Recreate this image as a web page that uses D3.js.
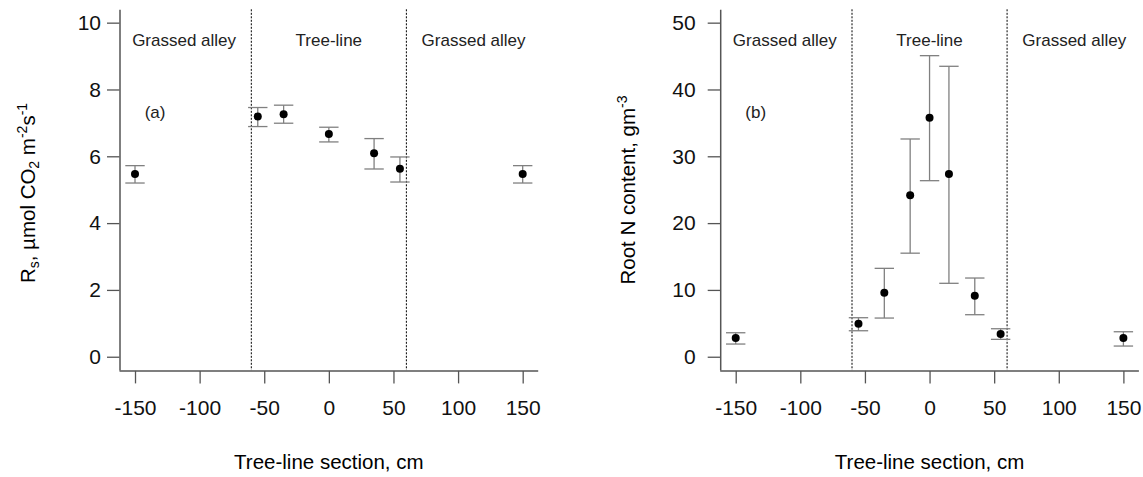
<!DOCTYPE html>
<html>
<head>
<meta charset="utf-8">
<script src="https://cdn.jsdelivr.net/npm/d3@7"></script>
<style>
  body { margin: 0; background: #fff; }
  svg { display: block; font-family: "Liberation Sans", Arial, sans-serif; }
</style>
</head>
<body>
<div id="chart"></div>
<script>
// data
const xTicks = [-150, -100, -50, 0, 50, 100, 150];
const boundaries = [-60, 60];
const zoneNames = ["Grassed alley", "Tree-line", "Grassed alley"];
const zoneCentres = [-112, 0, 112];

// (a) soil respiration
const rsX = [-150, -55, -35, 0, 35, 55, 150];
const rsMean = [5.47, 7.19, 7.26, 6.67, 6.09, 5.63, 5.47];
const rsLow = [5.20, 6.89, 6.99, 6.43, 5.62, 5.23, 5.20];
const rsHigh = [5.72, 7.46, 7.53, 6.87, 6.53, 5.98, 5.72];
const rsTicks = [0, 2, 4, 6, 8, 10];

// (b) root N content
const rootX = [-150, -55, -35, -15, 0, 15, 35, 55, 150];
const rootMean = [2.80, 4.94, 9.58, 24.16, 35.78, 27.35, 9.13, 3.40, 2.80];
const rootLow = [1.90, 3.89, 5.79, 15.50, 26.35, 10.99, 6.29, 2.60, 1.60];
const rootHigh = [3.59, 5.84, 13.23, 32.59, 45.06, 43.47, 11.78, 4.19, 3.74];
const rootTicks = [0, 10, 20, 30, 40, 50];

const width = 1143, height = 477;
const svg = d3.select("#chart").append("svg")
  .attr("width", width).attr("height", height);

const axisCol = "#555";
const barCol = "#808080";

function panel(opt) {
  const x = d3.scaleLinear().domain([-162, 162])
    .range([opt.left, opt.left + 418.7]);
  const y = d3.scaleLinear().domain(opt.yDomain).range([370.1, 9.3]);
  const g = svg.append("g");

  // dotted section boundaries
  g.selectAll("line.bound").data(boundaries).enter().append("line")
    .attr("class", "bound")
    .attr("x1", d => x(d)).attr("x2", d => x(d))
    .attr("y1", y.range()[1]).attr("y2", y.range()[0])
    .attr("stroke", "#000").attr("stroke-width", 1)
    .attr("stroke-dasharray", "2,1.5");

  // axes
  const xa = g.append("g").attr("transform", `translate(0,${y.range()[0] + 0.8})`)
    .call(d3.axisBottom(x).tickValues(xTicks).tickSize(12.5).tickSizeOuter(0)
      .tickPadding(17).tickFormat(d => String(d)));
  const ya = g.append("g").attr("transform", `translate(${x.range()[0]},0)`)
    .call(d3.axisLeft(y).tickValues(opt.yTicks).tickSize(12.5).tickSizeOuter(0)
      .tickPadding(opt.yPad).tickFormat(d => String(d)));
  [xa, ya].forEach(a => {
    a.select(".domain").attr("stroke", axisCol).attr("stroke-width", 1.5);
    a.selectAll(".tick line").attr("stroke", axisCol).attr("stroke-width", 1.3);
    a.selectAll(".tick text").attr("fill", "#111").style("font-size", "21px")
      .style("font-family", "'Liberation Sans', Arial, sans-serif");
  });
  // extend bottom axis to meet left axis
  xa.select(".domain").attr("d", `M${x.range()[0]},0H${x.range()[1]}`);

  // zone labels
  g.selectAll("text.zone").data(zoneNames).enter().append("text")
    .attr("class", "zone")
    .attr("x", (d, i) => x(zoneCentres[i])).attr("y", 45.5)
    .attr("text-anchor", "middle").attr("fill", "#222")
    .style("font-size", "17px").text(d => d);

  g.append("text").attr("x", x(-134.5)).attr("y", 117.5)
    .attr("text-anchor", "middle").attr("fill", "#222")
    .style("font-size", "17px").text(opt.tag);

  // error bars
  const idx = d3.range(opt.xs.length);
  g.selectAll("line.stem").data(idx).enter().append("line")
    .attr("class", "stem")
    .attr("x1", i => x(opt.xs[i])).attr("x2", i => x(opt.xs[i]))
    .attr("y1", i => y(opt.low[i])).attr("y2", i => y(opt.high[i]))
    .attr("stroke", barCol).attr("stroke-width", 1.3);
  ["low", "high"].forEach(k => {
    g.selectAll("line.cap" + k).data(idx).enter().append("line")
      .attr("class", "cap" + k)
      .attr("x1", i => x(opt.xs[i]) - 9.7).attr("x2", i => x(opt.xs[i]) + 9.7)
      .attr("y1", i => y(opt[k][i])).attr("y2", i => y(opt[k][i]))
      .attr("stroke", barCol).attr("stroke-width", 1.3);
  });

  // means
  g.selectAll("circle").data(idx).enter().append("circle")
    .attr("cx", i => x(opt.xs[i])).attr("cy", i => y(opt.mean[i]))
    .attr("r", 4).attr("fill", "#000");

  // x title
  g.append("text").attr("x", x(0)).attr("y", 469)
    .attr("text-anchor", "middle").attr("fill", "#000")
    .style("font-size", "20.5px").text("Tree-line section, cm");

  // y title
  const yt = g.append("text")
    .attr("transform", `translate(${opt.ylabX},${opt.ylabY}) rotate(-90)`)
    .attr("text-anchor", "middle").attr("fill", "#000")
    .style("font-size", "20.5px");
  opt.ylab.forEach(p => {
    const t = yt.append("tspan").text(p.t);
    if (p.s === "sub") t.attr("baseline-shift", "-30%").style("font-size", "14px");
    if (p.s === "sup") t.attr("baseline-shift", "60%").style("font-size", "14px");
  });
}

panel({
  left: 119.5, yDomain: [-0.4, 10.4], yTicks: rsTicks, yPad: 6, tag: "(a)",
  xs: rsX, mean: rsMean, low: rsLow, high: rsHigh,
  ylabX: 35, ylabY: 193,
  ylab: [{t: "R"}, {t: "s", s: "sub"}, {t: ", \u00b5mol CO"}, {t: "2", s: "sub"},
         {t: " m"}, {t: "-2", s: "sup"}, {t: "s"}, {t: "-1", s: "sup"}]
});

panel({
  left: 720.2, yDomain: [-2, 52], yTicks: rootTicks, yPad: 12, tag: "(b)",
  xs: rootX, mean: rootMean, low: rootLow, high: rootHigh,
  ylabX: 635, ylabY: 190,
  ylab: [{t: "Root N content, gm"}, {t: "-3", s: "sup"}]
});
</script>
</body>
</html>
